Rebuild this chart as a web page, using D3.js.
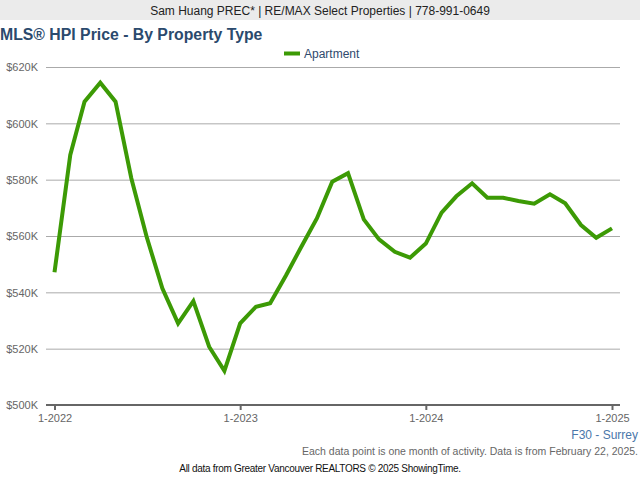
<!DOCTYPE html>
<html>
<head>
<meta charset="utf-8">
<script src="https://cdn.jsdelivr.net/npm/d3@7"></script>
<style>
  body { margin: 0; background: #fff; }
  text { font-family: "Liberation Sans", Arial, sans-serif; }
</style>
</head>
<body>
<script>
// monthly HPI price, Jan 2022 .. Jan 2025 (thousands of dollars)
const months = d3.timeMonths(new Date(2022, 0, 1), new Date(2025, 0, 2));
const apartment = [
  547.1, 588.8, 607.7, 614.4, 607.7, 580.5, 559.8, 541.4, 529.0, 536.9, 520.7, 512.1,
  529.0, 534.9, 536.1, 546.0, 556.1, 566.3, 579.3, 582.3, 565.9, 558.8, 554.4, 552.3,
  557.3, 568.3, 574.1, 578.7, 573.6, 573.6, 572.4, 571.5, 574.8, 571.6, 563.9, 559.4,
  562.7,
];
const yTicks = [500, 520, 540, 560, 580, 600, 620];
const xTicks = [new Date(2022, 0, 1), new Date(2023, 0, 1), new Date(2024, 0, 1), new Date(2025, 0, 1)];

const width = 640;
const height = 480;

const svg = d3.select('body').append('svg')
  .attr('width', width)
  .attr('height', height);

const x = d3.scaleTime()
  .domain([new Date(2022, 0, 1), new Date(2025, 0, 1)])
  .range([54.5, 612]);
const y = d3.scaleLinear()
  .domain([500, 620])
  .range([405, 67]);

// header band
svg.append('rect')
  .attr('x', 0).attr('y', 0)
  .attr('width', width).attr('height', 20)
  .style('fill', '#ebebeb');
svg.append('text')
  .attr('x', 320).attr('y', 15)
  .attr('text-anchor', 'middle')
  .style('font-size', '12px')
  .style('fill', '#222')
  .text('Sam Huang PREC* | RE/MAX Select Properties | 778-991-0649');

svg.append('text')
  .attr('x', 0).attr('y', 40)
  .style('font-size', '15.8px')
  .style('font-weight', 'bold')
  .style('fill', '#2b4a6d')
  .text('MLS® HPI Price - By Property Type');

// legend
svg.append('line')
  .attr('x1', 284).attr('x2', 300)
  .attr('y1', 53.5).attr('y2', 53.5)
  .style('stroke', '#3c9a05')
  .style('stroke-width', 4);
svg.append('text')
  .attr('x', 304).attr('y', 58)
  .style('font-size', '12px')
  .style('fill', '#2f4a6d')
  .text('Apartment');

// gridlines + y labels
const yAxis = svg.append('g')
  .attr('transform', 'translate(46,0)')
  .call(d3.axisLeft(y).tickValues(yTicks).tickSize(-574).tickPadding(8).tickFormat((d) => `$${d}K`));
yAxis.select('.domain').remove();
yAxis.selectAll('.tick line').style('stroke', '#aaa');
yAxis.selectAll('.tick text')
  .style('font-size', '11px')
  .style('fill', '#666')
  .attr('dy', '0.35em');
yAxis.selectAll('.tick').filter((d) => d === 500).select('line').remove();

// x axis
const xAxis = svg.append('g')
  .attr('transform', 'translate(0,405)')
  .call(d3.axisBottom(x).tickValues(xTicks).tickSize(5).tickPadding(4)
    .tickFormat((d) => `1-${d.getFullYear()}`));
xAxis.select('.domain')
  .attr('d', 'M46,0H620')
  .style('stroke', '#666')
  .style('stroke-width', 2);
xAxis.selectAll('.tick line').style('stroke', '#666').style('stroke-width', 2);
xAxis.selectAll('.tick text')
  .style('font-size', '11px')
  .style('fill', '#666');

// series
const line = d3.line()
  .x((d, i) => x(months[i]))
  .y((d) => y(d));
svg.append('path')
  .datum(apartment)
  .attr('d', line)
  .style('fill', 'none')
  .style('stroke', '#3c9a05')
  .style('stroke-width', 4)
  .style('stroke-linejoin', 'miter');

// footer
svg.append('text')
  .attr('x', 638).attr('y', 439)
  .attr('text-anchor', 'end')
  .style('font-size', '12px')
  .style('fill', '#4a77aa')
  .text('F30 - Surrey');
svg.append('text')
  .attr('x', 638).attr('y', 455)
  .attr('text-anchor', 'end')
  .style('font-size', '10.5px')
  .style('fill', '#666')
  .text('Each data point is one month of activity. Data is from February 22, 2025.');
svg.append('text')
  .attr('x', 320).attr('y', 472)
  .attr('text-anchor', 'middle')
  .style('font-size', '10px')
  .style('letter-spacing', '-0.3px')
  .style('fill', '#111')
  .text('All data from Greater Vancouver REALTORS © 2025 ShowingTime.');
</script>
</body>
</html>
